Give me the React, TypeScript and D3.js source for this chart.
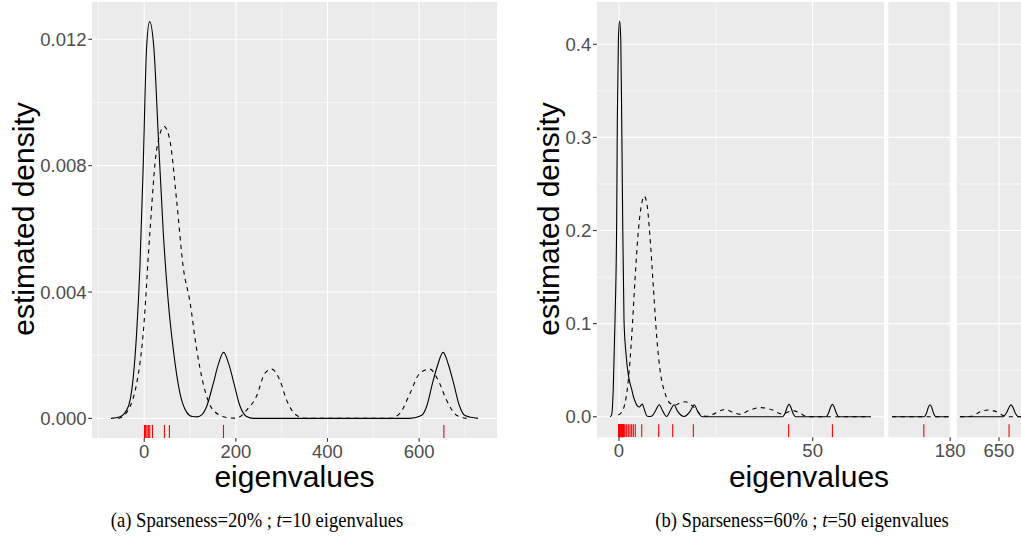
import * as d3 from "d3";
import React from "react";

// ---- data ----
const leftRug = [0.5, 3, 6, 9, 12, 18, 44, 55, 173, 654];
const leftYTicks = [0, 0.004, 0.008, 0.012];
const leftYMinor = [0.002, 0.006, 0.01];
const leftXTicks = [0, 200, 400, 600];
const leftXMinor = [-100, 100, 300, 500, 700];

const leftSolid: [number, number][] = [
  [-72.5, 0], [-53, 0.00005], [-35, 0.00037], [-24, 0.0013], [-16.6, 0.0027], [-9.4, 0.0048],
  [-2.2, 0.008], [5, 0.0117], [11.7, 0.01256], [21.2, 0.0117], [30.5, 0.009], [41.5, 0.0059],
  [52.4, 0.0037], [63.3, 0.0022], [77.9, 0.0008], [92.5, 0.0002], [105, 0.00006], [115.7, 0.00005],
  [126, 0.00012], [136, 0.00037], [150.6, 0.0011], [161.5, 0.0017], [173.2, 0.00209], [185, 0.0017],
  [196, 0.0011], [208.8, 0.0004], [223.4, 0.00006], [238, 0], [580, 0], [605, 0.00009],
  [617, 0.0004], [629, 0.0011], [640.7, 0.0017], [652.4, 0.00209], [664, 0.0017], [675.5, 0.0011],
  [688, 0.0004], [700, 0.00009], [728.8, 0],
];
const leftDashed: [number, number][] = [
  [-56.7, 0], [-45, 0.00008], [-35, 0.00026], [-25, 0.0006], [-16.6, 0.0011], [-2.2, 0.0027],
  [12.4, 0.0059], [27, 0.0085], [43.6, 0.00924], [56, 0.0088], [70.7, 0.0069], [85, 0.0048],
  [99.7, 0.0037], [114.3, 0.0022], [128.7, 0.0011], [150.6, 0.00026], [180, 0.00003], [198, 0.00001],
  [210, 0.00006], [223.4, 0.00026], [245, 0.0007], [263.4, 0.00143], [278, 0.00156], [296, 0.00121],
  [310.7, 0.00058], [332.5, 0.0001], [354, 0], [536, 0], [558, 0.00016], [580, 0.00079],
  [601.6, 0.00143], [623.4, 0.00156], [641.5, 0.00121], [659.8, 0.00058], [681.6, 0.0001], [703.5, 0],
];

const rightRug = [
  0, 0.01, 0.02, 0.03, 0.04, 0.05, 0.06, 0.07, 0.08, 0.1, 0.13, 0.16, 0.19, 0.22, 0.25, 0.29, 0.33,
  0.37, 0.41, 0.45, 0.5, 0.55, 0.6, 0.65, 0.7, 0.75, 0.8, 0.86, 0.92, 0.98, 1.04, 1.1, 1.16, 1.22, 1.28,
  1.55, 1.98, 2.4, 2.84, 3.27, 3.7, 4.2, 5.86, 10.25, 13.86, 19.2, 43.8, 55.1, 173.2, 652.6,
];
const rightYTicks = [0, 0.1, 0.2, 0.3, 0.4];
const rightYMinor = [0.05, 0.15, 0.25, 0.35];

const solidA: [number, number][] = [
  [-2.3, 0], [-1.9, 0.002], [-1.47, 0.032], [-1.03, 0.104], [-0.6, 0.211], [-0.43, 0.319],
  [-0.15, 0.406], [0.15, 0.425], [0.45, 0.406], [0.7, 0.319], [0.95, 0.211], [1.29, 0.104],
  [1.8, 0.068], [2.4, 0.045], [2.84, 0.036], [3.3, 0.029], [3.7, 0.022], [4.2, 0.016], [4.6, 0.0125],
  [5.2, 0.0105], [6.0, 0.0135], [6.6, 0.007], [7.2, 0.0008], [8.0, 0.0002], [8.8, 0.002], [9.5, 0.007],
  [10.4, 0.0128], [11.3, 0.006], [12.3, 0.0002], [13.3, 0.007], [14.2, 0.0128], [15.1, 0.006],
  [16.8, 0.0003], [18.4, 0.006], [19.4, 0.0128], [20.3, 0.006], [21.3, 0.0003], [22, 0], [42.2, 0],
  [42.9, 0.004], [43.4, 0.01], [43.9, 0.0133], [44.4, 0.01], [44.9, 0.004], [45.6, 0], [53.4, 0],
  [54.1, 0.004], [54.6, 0.01], [55.1, 0.0133], [55.6, 0.01], [56.1, 0.004], [56.8, 0], [65, 0],
];
const dashedA: [number, number][] = [
  [-0.2, 0.0018], [0.5, 0.004], [1.1, 0.008], [1.8, 0.02], [2.4, 0.039], [3.27, 0.086], [4.13, 0.147],
  [5.0, 0.2], [5.86, 0.229], [6.5, 0.237], [7.3, 0.2256], [8.0, 0.193], [8.86, 0.14], [9.73, 0.086],
  [10.6, 0.05], [11.9, 0.025], [13.2, 0.0144], [14.5, 0.0125], [15.8, 0.015], [17.2, 0.016],
  [18.5, 0.013], [19.5, 0.0095], [20.9, 0.003], [22.6, 0.0005], [24.8, 0.0036], [27.3, 0.0078],
  [29.3, 0.005], [31.2, 0.0025], [33.5, 0.0065], [36.5, 0.0098], [39.5, 0.0075], [42, 0.003],
  [45, 0.0066], [47, 0.003], [48.5, 0.0003], [50, 0], [65, 0],
];
const solidB: [number, number][] = [
  [165, 0], [173.3, 0], [173.9, 0.004], [174.35, 0.01], [174.8, 0.0128], [175.25, 0.01],
  [175.7, 0.004], [176.3, 0], [179.7, 0],
];
const dashedB: [number, number][] = [[165, 0], [179.7, 0]];
const solidC: [number, number][] = [
  [639.9, 0], [651.0, 0], [651.9, 0.004], [652.6, 0.01], [653.1, 0.0128], [653.6, 0.01],
  [654.2, 0.004], [655, 0], [656, 0],
];
const dashedC: [number, number][] = [
  [639.9, 0], [643, 0.0005], [645, 0.005], [647.2, 0.0072], [649.5, 0.005], [651.2, 0.001],
  [652.5, 0], [656, 0],
];

const SANS = "'Liberation Sans', Arial, sans-serif";
const BG = "#EBEBEB";
const TICK_COL = "#4D4D4D";

type Facet = {
  x0: number; x1: number; domain: [number, number];
  ticks: number[]; minor: number[];
  solid: [number, number][]; dashed: [number, number][];
};

// one grey panel of a ggplot-like density chart
const Panel = ({ f, y, top, bottom, yMinor, yMajor, rug, id }: any) => {
  const x = d3.scaleLinear().domain(f.domain).range([f.x0, f.x1]);
  const line = d3.line<[number, number]>()
    .x((d) => x(d[0]))
    .y((d) => y(d[1]))
    .curve(d3.curveMonotoneX);
  const rugLen = 0.03 * (bottom - top);
  return (
    <g>
      <clipPath id={id}>
        <rect x={f.x0} y={top} width={f.x1 - f.x0} height={bottom - top} />
      </clipPath>
      <rect x={f.x0} y={top} width={f.x1 - f.x0} height={bottom - top} fill={BG} />
      <g clipPath={`url(#${id})`}>
        {yMinor.map((t: number) => (
          <line key={"ym" + t} x1={f.x0} x2={f.x1} y1={y(t)} y2={y(t)} stroke="#fff" strokeWidth={0.55} />
        ))}
        {f.minor.map((t: number) => (
          <line key={"xm" + t} x1={x(t)} x2={x(t)} y1={top} y2={bottom} stroke="#fff" strokeWidth={0.55} />
        ))}
        {yMajor.map((t: number) => (
          <line key={"y" + t} x1={f.x0} x2={f.x1} y1={y(t)} y2={y(t)} stroke="#fff" strokeWidth={1.1} />
        ))}
        {f.ticks.map((t: number) => (
          <line key={"x" + t} x1={x(t)} x2={x(t)} y1={top} y2={bottom} stroke="#fff" strokeWidth={1.1} />
        ))}
        <path d={line(f.dashed) || ""} fill="none" stroke="#000" strokeWidth={1.1} strokeDasharray="4.3,4.3" />
        <path d={line(f.solid) || ""} fill="none" stroke="#000" strokeWidth={1.1} />
        {rug.map((v: number, i: number) => (
          <line key={"r" + i} x1={x(v)} x2={x(v)} y1={bottom} y2={bottom - rugLen} stroke="#FF0000" strokeWidth={1.1} />
        ))}
      </g>
      {f.ticks.map((t: number) => (
        <g key={"xt" + t}>
          <line x1={x(t)} x2={x(t)} y1={bottom} y2={bottom + 3.7} stroke="#333" strokeWidth={1.1} />
          <text x={x(t)} y={bottom + 20} textAnchor="middle" fontSize={18.5} fill={TICK_COL} fontFamily={SANS}>
            {t}
          </text>
        </g>
      ))}
    </g>
  );
};

const YAxis = ({ y, x0, ticks, fmt, title, titleX }: any) => (
  <g fontFamily={SANS}>
    {ticks.map((t: number) => (
      <g key={t}>
        <line x1={x0 - 3.7} x2={x0} y1={y(t)} y2={y(t)} stroke="#333" strokeWidth={1.1} />
        <text x={x0 - 5.5} y={y(t)} dy="0.36em" textAnchor="end" fontSize={18.5} fill={TICK_COL}>
          {fmt(t)}
        </text>
      </g>
    ))}
    <text transform={`translate(${titleX},219) rotate(-90)`} textAnchor="middle" fontSize={30} fill="#000">
      {title}
    </text>
  </g>
);

const Caption = ({ cx, label, pct, t }: any) => (
  <text
    transform={`translate(${cx},527) scale(0.93,1)`}
    textAnchor="middle"
    fontFamily="'Liberation Serif', 'Times New Roman', serif"
    fontSize={20}
  >
    {`(${label}) Sparseness=${pct}% ; `}
    <tspan fontStyle="italic">t</tspan>
    {`=${t} eigenvalues`}
  </text>
);

const App = () => {
  const top = 2;
  const bottomL = 438;
  const bottomR = 437.3;

  const yL = d3.scaleLinear().domain([-0.00062, 0.01318]).range([bottomL, top]);
  const yR = d3.scaleLinear().domain([-0.0221, 0.4454]).range([bottomR, top]);

  const leftFacet: Facet = {
    x0: 92, x1: 497, domain: [-114, 770], ticks: leftXTicks, minor: leftXMinor,
    solid: leftSolid, dashed: leftDashed,
  };
  const rightFacets: Facet[] = [
    { x0: 596.7, x1: 884, domain: [-5.76, 68.42], ticks: [0, 50], minor: [25], solid: solidA, dashed: dashedA },
    { x0: 888.3, x1: 950.7, domain: [164.03, 180.14], ticks: [180], minor: [], solid: solidB, dashed: dashedB },
    { x0: 956.7, x1: 1021, domain: [639.08, 655.68], ticks: [650], minor: [], solid: solidC, dashed: dashedC },
  ];

  return (
    <svg width={1021} height={540} style={{ position: "absolute", left: 0, top: 0, background: "#fff" }}>
      <Panel f={leftFacet} y={yL} top={top} bottom={bottomL} yMinor={leftYMinor} yMajor={leftYTicks} rug={leftRug} id="clipL" />
      <YAxis y={yL} x0={92} ticks={leftYTicks} fmt={d3.format(".3f")} title="estimated density" titleX={34} />
      <text x={294.5} y={487} textAnchor="middle" fontSize={30} fontFamily={SANS}>eigenvalues</text>

      {rightFacets.map((f, i) => (
        <Panel key={i} f={f} y={yR} top={top} bottom={bottomR} yMinor={rightYMinor} yMajor={rightYTicks} rug={rightRug} id={"clipR" + i} />
      ))}
      <YAxis y={yR} x0={596.7} ticks={rightYTicks} fmt={d3.format(".1f")} title="estimated density" titleX={559} />
      <text x={809} y={487} textAnchor="middle" fontSize={30} fontFamily={SANS}>eigenvalues</text>

      <Caption cx={257} label="a" pct={20} t={10} />
      <Caption cx={802} label="b" pct={60} t={50} />
    </svg>
  );
};

export default App;
